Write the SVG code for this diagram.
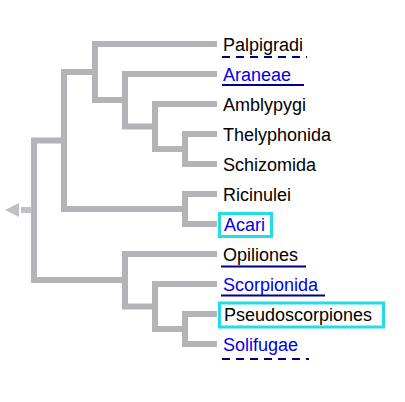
<svg xmlns="http://www.w3.org/2000/svg" width="405" height="402" viewBox="0 0 405 402">
<style>
.br{fill:none;stroke:#b3b3b8;stroke-width:6;stroke-linejoin:miter;stroke-linecap:butt}
.lb{font-family:"Liberation Sans",Arial,sans-serif;font-size:18px;fill:#000}
.lk{fill:#0000e6}
.ul{stroke:#000080;stroke-width:2.2;fill:none}
.dl{stroke:#000080;stroke-width:2.2;fill:none;stroke-dasharray:8 6}
.bx{fill:none;stroke:#22dde6;stroke-width:3}
</style>
<rect width="405" height="402" fill="#fff"/>
<g id="connectors">
<path class="br" d="M217 134H185V164H217"/>
<path class="br" d="M217 104H155V149H185"/>
<path class="br" d="M217 74H125V126.5H155"/>
<path class="br" d="M217 44H95V100H125"/>
<path class="br" d="M217 194H185V224H217"/>
<path class="br" d="M95 72H64V209H185"/>
<path class="br" d="M64 140.5H34V280H125"/>
<path class="br" d="M217 254H125V306.5H155"/>
<path class="br" d="M217 284H155V329H185"/>
<path class="br" d="M217 314H185V344H217"/>
<g id="root">
<rect x="21" y="207" width="11" height="6" fill="#c0c0c4"/>
<polygon points="5,210 19,203 19,217" fill="#c0c0c4"/>
</g>
</g>
<g id="palpigradi"><text class="lb" x="223" y="50.5">Palpigradi</text><line class="dl" x1="222" y1="57" x2="307" y2="57"/></g>
<g id="araneae"><text class="lb lk" x="223" y="80.5">Araneae</text><line class="ul" x1="222" y1="85" x2="304" y2="85"/></g>
<g id="amblypygi"><text class="lb" x="223" y="110.5">Amblypygi</text></g>
<g id="thelyphonida"><text class="lb" x="223" y="140.5">Thelyphonida</text></g>
<g id="schizomida"><text class="lb" x="223" y="170.5">Schizomida</text></g>
<g id="ricinulei"><text class="lb" x="223" y="200.5">Ricinulei</text></g>
<g id="acari"><rect class="bx" x="219.5" y="213.5" width="52" height="23"/><text class="lb lk" x="224" y="230.5">Acari</text></g>
<g id="opiliones"><text class="lb" x="223" y="260.5">Opiliones</text><line class="ul" x1="221" y1="266.5" x2="306" y2="266.5"/></g>
<g id="scorpionida"><text class="lb lk" x="223" y="290.5">Scorpionida</text><line class="ul" x1="221" y1="295.5" x2="325" y2="295.5"/></g>
<g id="pseudoscorpiones"><rect class="bx" x="219.5" y="303" width="164" height="24"/><text class="lb" x="224" y="320.5">Pseudoscorpiones</text></g>
<g id="solifugae"><text class="lb lk" x="223" y="350.5">Solifugae</text><line class="dl" x1="222" y1="359" x2="309" y2="359"/></g>
</svg>
